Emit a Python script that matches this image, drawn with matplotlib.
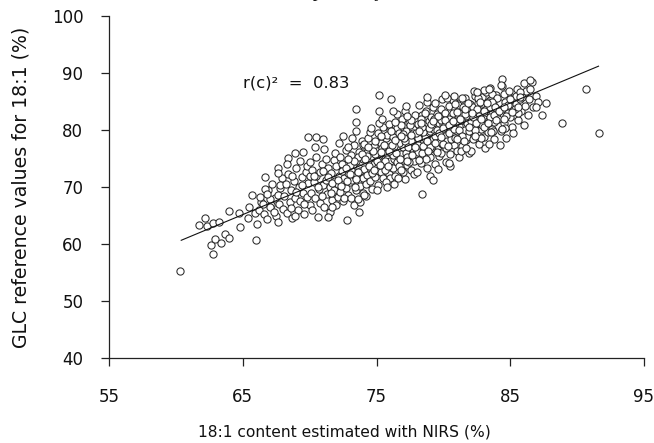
import matplotlib
matplotlib.use("Agg")
import matplotlib.pyplot as plt
import numpy as np

# regression line (y = slope * x + intercept)
FIT_SLOPE = 0.979
FIT_INTERCEPT = 1.52
FIT_RANGE = [60.4, 91.6]
R2_TEXT = "r(c)\u00b2  =  0.83"

X_TICKS = [55, 65, 75, 85, 95]
Y_TICKS = [40, 50, 60, 70, 80, 90, 100]

# sparse points at the low end (NIRS, GLC)
SPARSE_LOW = [
    (60.3, 55.2), (61.7, 63.3), (62.2, 64.6), (62.3, 63.2), (62.6, 59.8),
    (62.8, 58.2), (62.8, 63.7), (62.9, 60.9), (63.2, 63.8), (63.4, 60.2),
    (63.7, 61.8), (64.0, 61.1), (64.0, 65.8), (64.7, 65.4), (64.8, 63.0),
    (65.4, 64.6), (65.5, 66.5), (65.7, 68.6), (65.9, 65.4), (66.0, 60.7),
    (66.1, 63.5),
]

BAND_66_70 = [
    (66.2, 66.0), (66.4, 67.3), (66.6, 65.2), (66.9, 69.4), (67.1, 66.8),
    (67.2, 70.5), (67.4, 68.0), (67.5, 64.9), (67.7, 67.0), (67.8, 69.8),
    (67.9, 71.5), (68.0, 66.2), (66.3, 68.2), (67.0, 67.9), (66.8, 64.4),
    (66.5, 67.0), (66.7, 69.6), (66.8, 68.8), (66.7, 71.8), (67.6, 73.3),
    (67.6, 72.5), (67.8, 70.4), (67.6, 68.6), (67.0, 66.5), (67.3, 65.6),
    (67.6, 63.9), (68.4, 75.1), (68.9, 76.0), (69.5, 76.1),
    (68.1, 68.4), (68.2, 70.6), (68.3, 65.5), (68.4, 72.2), (68.5, 67.3),
    (68.6, 69.5), (68.7, 64.5), (68.8, 71.0), (68.9, 68.0), (69.0, 73.4),
    (69.1, 66.0), (69.2, 70.0), (69.3, 67.6), (69.4, 71.8), (69.5, 69.0),
    (69.6, 65.3), (69.7, 72.6), (69.8, 68.3), (69.9, 70.7), (70.0, 66.8),
    (68.3, 74.0), (68.6, 66.3), (69.0, 69.2), (69.3, 74.5), (69.6, 67.0),
    (69.8, 73.6), (68.9, 65.0), (69.4, 70.4), (70.0, 71.9), (68.7, 71.9),
]

BAND_70_74 = [
    (70.1, 69.0), (70.2, 73.0), (70.2, 66.0), (70.3, 70.8), (70.4, 68.1),
    (70.5, 75.2), (70.5, 71.9), (70.6, 64.8), (70.7, 69.6), (70.8, 72.6),
    (70.8, 67.2), (70.9, 74.0), (71.0, 70.4), (71.1, 66.5), (71.1, 76.6),
    (71.2, 71.3), (71.3, 68.8), (71.4, 73.4), (71.5, 70.0), (71.5, 65.6),
    (71.6, 72.4), (71.7, 67.8), (71.8, 74.8), (71.8, 69.4), (71.9, 71.0),
    (72.0, 73.6), (72.0, 66.9), (72.1, 70.5), (70.3, 72.0), (70.6, 70.0),
    (70.9, 68.4), (71.2, 75.0), (71.4, 71.8), (71.6, 69.0), (71.9, 76.0),
    (70.4, 77.0), (71.0, 72.8), (71.7, 70.7), (72.1, 68.2), (70.0, 74.4),
    (72.2, 72.0), (72.3, 69.2), (72.3, 75.3), (72.4, 70.6), (72.5, 73.1),
    (72.5, 67.5), (72.6, 71.5), (72.7, 76.5), (72.7, 69.9), (72.8, 74.2),
    (72.9, 72.4), (72.9, 68.6), (73.0, 70.8), (73.1, 75.6), (73.1, 73.0),
    (73.2, 71.3), (73.3, 66.8), (73.3, 77.4), (73.4, 72.0), (73.5, 69.4),
    (73.5, 74.5), (73.6, 71.0), (73.7, 76.2), (73.7, 73.3), (73.8, 70.2),
    (73.9, 78.0), (73.9, 72.5), (74.0, 74.9), (74.0, 69.0), (72.2, 77.8),
    (72.4, 74.0), (72.6, 68.0), (72.8, 71.0), (73.0, 73.9), (73.2, 78.6),
    (73.4, 70.0), (73.6, 75.2), (73.8, 72.8), (74.0, 71.6), (72.5, 79.0),
    (73.1, 68.0), (73.5, 79.8), (72.9, 77.0), (73.8, 67.4), (74.0, 77.4),
]

BAND_74_78 = [
    (74.1, 73.2), (74.2, 70.5), (74.2, 76.0), (74.3, 72.1), (74.4, 74.6),
    (74.4, 78.6), (74.5, 71.0), (74.6, 75.5), (74.6, 73.0), (74.7, 69.6),
    (74.8, 77.2), (74.8, 74.0), (74.9, 71.8), (75.0, 76.4), (75.0, 73.4),
    (75.1, 79.4), (75.1, 70.4), (75.2, 75.0), (75.3, 72.6), (75.3, 77.8),
    (75.4, 74.2), (75.5, 80.5), (75.5, 71.6), (75.6, 76.0), (75.7, 73.5),
    (75.7, 78.6), (75.8, 75.0), (75.9, 72.2), (75.9, 77.1), (76.0, 74.5),
    (76.0, 80.0), (74.1, 77.6), (74.3, 75.4), (74.5, 79.6), (74.7, 72.4),
    (74.9, 78.0), (75.1, 74.8), (75.2, 81.2), (75.4, 76.8), (75.6, 73.0),
    (75.8, 79.2), (76.0, 71.5), (74.2, 68.4), (74.6, 80.4), (75.0, 69.5),
    (75.4, 82.0), (75.7, 70.8), (74.9, 75.8), (75.3, 78.9), (75.9, 81.0),
    (76.1, 76.2), (76.2, 73.3), (76.2, 78.8), (76.3, 75.0), (76.4, 77.6),
    (76.4, 72.0), (76.5, 80.4), (76.5, 74.4), (76.6, 76.9), (76.7, 79.5),
    (76.7, 73.6), (76.8, 75.8), (76.9, 78.2), (76.9, 82.0), (77.0, 74.8),
    (77.0, 77.0), (77.1, 71.4), (77.2, 79.8), (77.2, 76.0), (77.3, 73.8),
    (77.4, 78.6), (77.4, 81.3), (77.5, 75.3), (77.5, 77.4), (77.6, 73.0),
    (77.7, 80.2), (77.7, 76.6), (77.8, 78.9), (77.8, 74.6), (77.9, 82.6),
    (77.9, 77.2), (76.1, 79.8), (76.3, 70.6), (76.5, 82.8), (76.6, 71.6),
    (76.8, 80.8), (77.0, 79.3), (77.1, 83.4), (77.3, 75.2), (77.5, 80.8),
    (77.6, 78.0), (77.8, 72.2), (76.2, 75.6), (76.4, 81.4), (76.7, 77.8),
    (77.0, 72.6), (77.2, 84.2), (77.4, 74.4), (77.6, 81.8), (77.9, 75.8),
    (76.8, 73.0), (77.1, 78.1), (77.3, 82.4), (77.7, 79.4), (76.3, 77.2),
]

BAND_78_82 = [
    (78.0, 79.0), (78.1, 76.2), (78.1, 81.0), (78.2, 77.8), (78.3, 74.2),
    (78.3, 80.0), (78.4, 82.6), (78.4, 78.4), (78.5, 75.6), (78.6, 80.8),
    (78.6, 77.0), (78.7, 83.4), (78.7, 79.2), (78.8, 73.4), (78.9, 81.6),
    (78.9, 77.6), (79.0, 79.9), (79.0, 75.2), (79.1, 82.2), (79.2, 78.4),
    (79.2, 84.0), (79.3, 76.6), (79.4, 80.6), (79.4, 74.0), (79.5, 78.8),
    (79.5, 82.8), (79.6, 77.2), (79.7, 81.2), (79.7, 75.4), (79.8, 79.6),
    (79.8, 83.6), (79.9, 77.6), (80.0, 81.0), (78.0, 72.6), (78.2, 84.4),
    (78.4, 76.0), (78.6, 78.6), (78.8, 85.0), (79.0, 72.0), (79.2, 80.2),
    (79.4, 84.8), (79.6, 73.2), (79.8, 81.8), (78.1, 78.6), (78.3, 82.0),
    (78.5, 79.6), (78.7, 75.0), (78.9, 80.4), (79.1, 76.8), (79.3, 82.0),
    (79.5, 80.0), (79.7, 78.0), (79.9, 85.4), (78.2, 74.8), (78.6, 83.0),
    (79.0, 77.0), (79.4, 79.0), (79.8, 76.0), (78.4, 80.6), (79.6, 82.4),
    (80.1, 79.0), (80.1, 83.0), (80.2, 76.8), (80.3, 81.4), (80.3, 78.0),
    (80.4, 84.2), (80.5, 80.2), (80.5, 75.8), (80.6, 82.4), (80.7, 79.0),
    (80.7, 85.2), (80.8, 77.4), (80.9, 81.0), (80.9, 83.6), (81.0, 79.8),
    (81.0, 76.4), (81.1, 82.4), (81.2, 78.6), (81.2, 84.8), (81.3, 80.6),
    (81.4, 77.2), (81.4, 83.0), (81.5, 79.4), (81.5, 81.8), (81.6, 85.6),
    (81.7, 78.2), (81.7, 80.8), (81.8, 83.8), (81.9, 76.0), (81.9, 82.2),
    (82.0, 79.6), (80.2, 74.4), (80.4, 82.0), (80.6, 78.4), (80.8, 86.0),
    (81.0, 81.6), (81.2, 75.2), (81.4, 85.6), (81.6, 80.0), (81.8, 78.8),
    (80.1, 80.8), (80.3, 85.6), (80.5, 73.6), (80.7, 83.0), (80.9, 78.6),
    (81.1, 84.4), (81.3, 76.4), (81.5, 84.0), (81.7, 82.4), (81.9, 79.8),
    (80.4, 79.4), (80.6, 81.2), (80.8, 80.2), (81.0, 83.2), (81.2, 80.0),
    (81.4, 79.0), (81.6, 82.8), (81.8, 81.2), (80.0, 77.6), (82.0, 84.6),
]

BAND_82_87 = [
    (82.1, 81.6), (82.2, 78.4), (82.2, 84.0), (82.3, 80.4), (82.4, 82.8),
    (82.4, 86.0), (82.5, 79.4), (82.6, 81.8), (82.6, 84.8), (82.7, 77.6),
    (82.8, 83.2), (82.8, 80.2), (82.9, 85.8), (83.0, 82.0), (83.0, 78.8),
    (83.1, 84.2), (83.2, 81.0), (83.2, 86.6), (83.3, 79.6), (83.4, 83.4),
    (83.4, 81.8), (83.5, 85.2), (83.6, 80.2), (83.6, 82.8), (83.7, 84.6),
    (83.8, 78.4), (83.8, 81.4), (83.9, 86.2), (84.0, 83.0), (82.1, 76.4),
    (82.3, 86.8), (82.5, 83.6), (82.7, 82.4), (82.9, 80.8), (83.1, 76.8),
    (83.3, 85.0), (83.5, 82.2), (83.7, 79.8), (83.9, 83.8), (82.2, 82.2),
    (82.4, 80.0), (82.8, 78.6), (83.0, 87.0), (83.2, 83.6), (83.4, 77.6),
    (83.6, 86.4), (83.8, 82.6), (82.6, 85.6), (83.0, 80.6), (83.5, 84.0),
    (84.1, 82.0), (84.2, 84.8), (84.3, 79.8), (84.4, 83.6), (84.5, 86.4),
    (84.5, 81.2), (84.6, 85.0), (84.7, 78.6), (84.8, 83.0), (84.9, 86.8),
    (85.0, 84.2), (85.1, 80.6), (85.2, 85.6), (85.3, 82.6), (85.4, 84.6),
    (85.5, 87.2), (85.6, 81.8), (85.7, 85.4), (85.8, 83.4), (84.2, 77.4),
    (84.4, 87.8), (84.6, 80.4), (84.8, 84.4), (85.0, 82.2), (85.2, 79.4),
    (85.4, 86.0), (85.6, 83.0), (84.0, 85.6), (84.7, 82.4), (85.9, 85.8),
    (86.1, 84.2), (86.2, 86.8), (86.3, 82.6), (86.4, 85.4), (86.6, 88.4),
    (86.7, 84.0), (86.9, 86.0), (87.1, 85.0), (86.0, 80.8), (86.5, 87.2),
]

# extra points packed close to the line in the densest part
BAND_CORE = [
    (72.15, 71.2), (72.45, 72.8), (72.75, 73.4), (73.05, 72.2), (73.35, 74.6),
    (73.65, 72.6), (73.95, 75.8), (72.35, 70.2), (72.85, 75.0), (73.45, 71.4),
    (74.15, 75.0), (74.45, 73.6), (74.75, 76.4), (75.05, 74.6), (75.35, 76.2),
    (75.65, 74.6), (75.95, 76.4), (74.35, 77.0), (74.85, 73.0), (75.25, 73.8),
    (75.55, 77.4), (75.85, 73.6),
    (76.15, 77.4), (76.45, 76.0), (76.75, 75.0), (77.05, 78.6), (77.35, 77.0),
    (77.65, 75.6), (77.95, 79.4), (76.35, 78.2), (76.85, 79.0), (77.25, 74.6),
    (77.55, 79.2), (77.85, 77.0),
    (78.15, 79.8), (78.45, 77.2), (78.75, 78.0), (79.05, 81.0), (79.35, 77.8),
    (79.65, 79.4), (79.95, 80.4), (78.35, 81.2), (78.85, 76.4), (79.25, 81.6),
    (79.55, 76.2), (79.85, 78.8),
    (80.15, 81.8), (80.45, 80.8), (80.75, 81.6), (81.05, 78.4), (81.35, 81.8),
    (81.65, 83.6), (81.95, 80.6), (80.35, 77.2), (80.85, 84.6), (81.25, 82.0),
    (81.55, 78.0), (81.85, 84.8),
    (82.15, 83.0), (82.45, 81.2), (82.75, 85.0), (83.05, 83.4), (83.35, 81.2),
    (83.65, 85.0), (83.95, 81.8), (82.35, 79.0), (82.85, 82.0), (83.25, 84.8),
    (83.55, 79.6), (83.85, 84.0),
    (84.15, 83.4), (84.55, 84.0), (84.95, 85.4), (85.35, 83.6), (85.75, 86.6),
]

# points standing off the main band
OUTLIERS = [
    (69.9, 78.8), (70.5, 78.8), (71.0, 78.4), (73.5, 83.7), (73.5, 81.4),
    (75.2, 86.1), (76.1, 85.4), (75.2, 83.3), (76.2, 83.3), (78.8, 85.8),
    (80.1, 86.1), (82.5, 86.7), (83.5, 87.4), (84.4, 88.9), (84.3, 87.9),
    (83.4, 87.2), (86.0, 88.2), (86.5, 88.8),
    (72.8, 64.2), (73.7, 65.6), (71.4, 64.7), (71.7, 66.5), (75.8, 70.0),
    (74.1, 68.6), (73.6, 67.9), (78.4, 68.8), (79.2, 71.2), (80.4, 74.2),
    (81.7, 76.8),
    (90.7, 87.2), (91.6, 79.5), (88.9, 81.2), (87.4, 82.6), (87.7, 84.7),
    (86.9, 84.0), (85.7, 85.8), (85.6, 84.0), (85.1, 83.2), (84.5, 81.9),
    (84.4, 80.2),
]

FONT = "DejaVu Sans"


def main():
    points = np.array(SPARSE_LOW + BAND_66_70 + BAND_70_74 + BAND_74_78
                      + BAND_78_82 + BAND_82_87 + BAND_CORE + OUTLIERS)

    fig = plt.figure(figsize=(6.54, 4.43), dpi=100)
    ax = fig.add_axes([109 / 654, 85 / 443, 535 / 654, 342 / 443])

    ax.scatter(points[:, 0], points[:, 1], s=27, facecolor="white",
               edgecolor="#2a2a2a", linewidth=0.75, zorder=2)

    fit_x = np.array(FIT_RANGE)
    ax.plot(fit_x, FIT_SLOPE * fit_x + FIT_INTERCEPT, color="#111111",
            linewidth=0.8, zorder=3)

    ax.text(65.0, 88.2, R2_TEXT, family=FONT, fontsize=11.8, va="center",
            ha="left", color="#111111")

    ax.set_xlim(55, 95)
    ax.set_ylim(40, 100)
    ax.set_xticks(X_TICKS)
    ax.set_yticks(Y_TICKS)
    for side in ("top", "right"):
        ax.spines[side].set_visible(False)
    for side in ("left", "bottom"):
        ax.spines[side].set_linewidth(0.9)
        ax.spines[side].set_color("#222222")
    ax.tick_params(direction="out", length=5.5, width=0.9, color="#222222")
    ax.tick_params(axis="x", pad=16)
    ax.tick_params(axis="y", pad=13)
    for label in ax.get_xticklabels() + ax.get_yticklabels():
        label.set_family(FONT)
        label.set_fontsize(12)
        label.set_color("#111111")

    fig.text(344 / 654, 1 - 432 / 443, "18:1 content estimated with NIRS (%)",
             family=FONT, fontsize=11.2, ha="center", va="center",
             color="#111111")
    fig.text(21 / 654, 1 - 187 / 443, "GLC reference values for 18:1 (%)",
             family=FONT, fontsize=13.6, rotation=90, ha="center", va="center",
             color="#111111")

    # caption line cut off by the top edge of the picture
    fig.text(280 / 654, 1 + 3 / 443, ", respectively", family="Liberation Serif",
             fontsize=14, ha="left", va="baseline", color="#111111")

    fig.savefig("out.png", dpi=100)
    plt.close(fig)


if __name__ == "__main__":
    main()
